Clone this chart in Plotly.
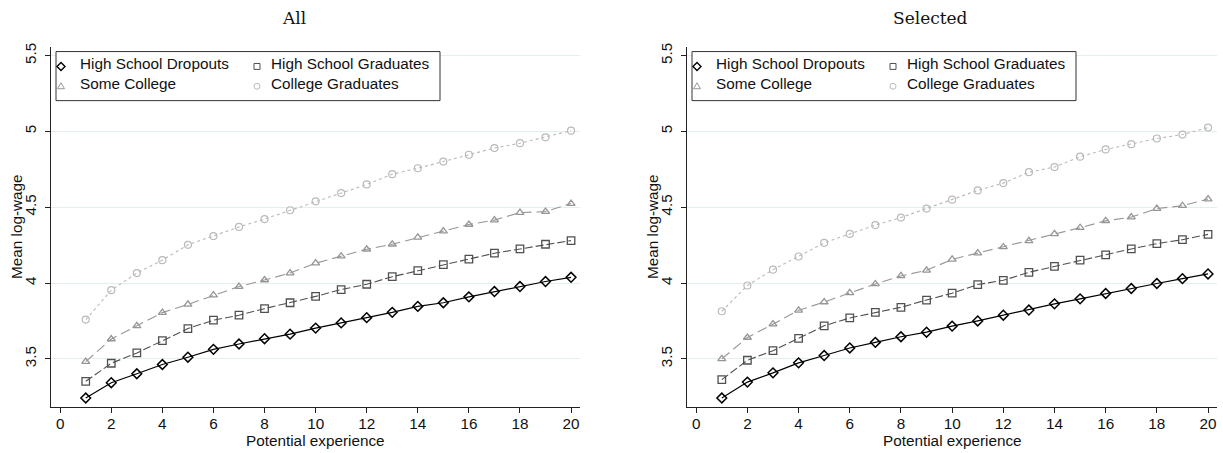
import plotly.graph_objects as go

W, H = 1223, 453

# ---------------- data ----------------
experience = list(range(1, 21))
x_ticks = list(range(0, 21, 2))
y_ticks = [3.5, 4.0, 4.5, 5.0, 5.5]
y_ticktext = ["3.5", "4", "4.5", "5", "5.5"]

series_names = ["High School Dropouts", "High School Graduates", "Some College", "College Graduates"]
panel_titles = ["All", "Selected"]

all_dropouts = [3.242, 3.343, 3.402, 3.463, 3.511, 3.563, 3.598, 3.633, 3.663, 3.703,
                3.737, 3.772, 3.807, 3.846, 3.870, 3.909, 3.944, 3.977, 4.010, 4.038]
all_hsgrad = [3.352, 3.471, 3.539, 3.620, 3.700, 3.755, 3.788, 3.831, 3.870, 3.912,
              3.957, 3.992, 4.042, 4.082, 4.121, 4.158, 4.197, 4.225, 4.256, 4.280]
all_somecol = [3.482, 3.631, 3.718, 3.805, 3.859, 3.920, 3.977, 4.020, 4.066, 4.131,
               4.177, 4.223, 4.256, 4.301, 4.343, 4.386, 4.415, 4.465, 4.471, 4.524]
all_colgrad = [3.759, 3.953, 4.066, 4.151, 4.252, 4.310, 4.370, 4.422, 4.480, 4.539,
               4.593, 4.650, 4.718, 4.757, 4.801, 4.846, 4.890, 4.922, 4.961, 5.005]

sel_dropouts = [3.242, 3.347, 3.408, 3.474, 3.522, 3.572, 3.609, 3.646, 3.676, 3.716,
                3.750, 3.788, 3.822, 3.863, 3.896, 3.931, 3.964, 3.997, 4.029, 4.060]
sel_hsgrad = [3.363, 3.491, 3.554, 3.635, 3.718, 3.770, 3.807, 3.840, 3.888, 3.933,
              3.990, 4.018, 4.071, 4.110, 4.151, 4.186, 4.225, 4.260, 4.286, 4.321]
sel_somecol = [3.500, 3.641, 3.729, 3.820, 3.875, 3.935, 3.994, 4.047, 4.084, 4.156,
               4.197, 4.238, 4.278, 4.324, 4.365, 4.410, 4.435, 4.491, 4.510, 4.554]
sel_colgrad = [3.814, 3.984, 4.088, 4.175, 4.265, 4.324, 4.382, 4.432, 4.491, 4.550,
               4.611, 4.659, 4.731, 4.765, 4.833, 4.881, 4.916, 4.953, 4.979, 5.025]

# ---------------- styles ----------------
styles = [
    dict(color="#000000", dash="solid", symbol="diamond-open", size=7.5, lw=1.2, mlw=1.5),
    dict(color="#505050", dash="8px,3px", symbol="square-open", size=7.5, lw=1.1, mlw=1.3),
    dict(color="#969696", dash="10px,5px", symbol="triangle-up-open", size=7, lw=1.1, mlw=1.3),
    dict(color="#bababa", dash="3px,3px", symbol="circle-open", size=7, lw=1.1, mlw=1.2),
]

SANS = "Liberation Sans, Arial, Helvetica, sans-serif"
SERIF = "DejaVu Serif, serif"
FS = 15.3


def px(x):
    return x / W


def py(y):
    return 1 - y / H


fig = go.Figure()

panels = [
    ([all_dropouts, all_hsgrad, all_somecol, all_colgrad], "x", "y"),
    ([sel_dropouts, sel_hsgrad, sel_somecol, sel_colgrad], "x2", "y2"),
]

for vals, xa, ya in panels:
    for name, v, st in zip(series_names, vals, styles):
        fig.add_trace(go.Scatter(
            x=experience, y=v, name=name, mode="lines+markers",
            xaxis=xa, yaxis=ya, showlegend=False,
            line=dict(color=st["color"], width=st["lw"], dash=st["dash"]),
            marker=dict(symbol=st["symbol"], size=st["size"], color=st["color"],
                        line=dict(color=st["color"], width=st["mlw"])),
        ))

axis_left = [51, 687]
axis_right = [580, 1217]
plot_top, plot_bottom = 43, 407

common_x = dict(range=[-0.36, 20.35], tickmode="array", tickvals=x_ticks,
                ticks="outside", ticklen=5, tickwidth=1, tickcolor="#222",
                showline=True, linecolor="#222", linewidth=1, showgrid=False,
                zeroline=False, ticklabelstandoff=-3,
                tickfont=dict(family=SANS, size=FS, color="#111"))
common_y = dict(range=[3.18, 5.559], tickmode="array", tickvals=y_ticks, ticktext=y_ticktext,
                tickangle=-90, ticks="outside", ticklen=5, tickwidth=1, tickcolor="#222",
                showline=True, linecolor="#222", linewidth=1, showgrid=True,
                gridcolor="#e4eef1", gridwidth=1, zeroline=False, ticklabelstandoff=3,
                tickfont=dict(family=SANS, size=FS, color="#111"))

fig.update_layout(
    width=W, height=H,
    margin=dict(l=0, r=0, t=0, b=0),
    paper_bgcolor="white", plot_bgcolor="white",
    xaxis=dict(domain=[px(axis_left[0]), px(axis_right[0])], anchor="y", **common_x),
    yaxis=dict(domain=[py(plot_bottom), py(plot_top)], anchor="x", **common_y),
    xaxis2=dict(domain=[px(axis_left[1]), px(axis_right[1])], anchor="y2", **common_x),
    yaxis2=dict(domain=[py(plot_bottom), py(plot_top)], anchor="x2", **common_y),
)

annotations = []
shapes = []
title_x = [294, 930]

for i in range(2):
    L = axis_left[i]
    Rr = axis_right[i]
    # panel title
    annotations.append(dict(text=panel_titles[i], x=px(title_x[i]), y=py(14), xref="paper", yref="paper",
                            xanchor="center", yanchor="middle", showarrow=False,
                            font=dict(family=SERIF, size=17, color="#111")))
    # axis titles
    annotations.append(dict(text="Potential experience", x=px((L + Rr) / 2), y=py(440),
                            xref="paper", yref="paper", xanchor="center", yanchor="middle",
                            showarrow=False, font=dict(family=SANS, size=FS, color="#111")))
    annotations.append(dict(text="Mean log-wage", x=px(L - 35), y=py((plot_top + plot_bottom) / 2),
                            xref="paper", yref="paper", xanchor="center", yanchor="middle",
                            textangle=-90, showarrow=False,
                            font=dict(family=SANS, size=FS, color="#111")))
    # legend box
    off = L - 51
    shapes.append(dict(type="rect", xref="paper", yref="paper",
                       x0=px(56 + off), x1=px(440 + off), y0=py(97.5), y1=py(48),
                       line=dict(color="#333", width=1), fillcolor="white", layer="above"))
    entries = [(61, 63), (257, 63), (61, 83), (257, 83)]
    for (mx, my), name, st in zip(entries, series_names, styles):
        cx = mx + off
        c = st["color"]
        if "diamond" in st["symbol"]:
            path = (f"M {px(cx-4)},{py(my)} L {px(cx)},{py(my-4)} L {px(cx+4)},{py(my)} "
                    f"L {px(cx)},{py(my+4)} Z")
            shapes.append(dict(type="path", path=path, xref="paper", yref="paper",
                               line=dict(color=c, width=1.4), layer="above"))
        elif "square" in st["symbol"]:
            shapes.append(dict(type="rect", xref="paper", yref="paper",
                               x0=px(cx - 3), x1=px(cx + 3), y0=py(my + 3), y1=py(my - 3),
                               line=dict(color=c, width=1), layer="above"))
        elif "triangle" in st["symbol"]:
            path = (f"M {px(cx-3.5)},{py(my+2.5)} L {px(cx+3.5)},{py(my+2.5)} "
                    f"L {px(cx)},{py(my-3.5)} Z")
            shapes.append(dict(type="path", path=path, xref="paper", yref="paper",
                               line=dict(color=c, width=1), layer="above"))
        else:
            shapes.append(dict(type="circle", xref="paper", yref="paper",
                               x0=px(cx - 3), x1=px(cx + 3), y0=py(my + 3), y1=py(my - 3),
                               line=dict(color=c, width=1), layer="above"))
        annotations.append(dict(text=name, x=px(cx + 17 if mx == 61 else cx + 12), y=py(my - 2.5),
                                xref="paper", yref="paper", xanchor="left", yanchor="middle",
                                showarrow=False, font=dict(family=SANS, size=FS, color="#111")))

fig.update_layout(annotations=annotations, shapes=shapes)

fig.write_html("out.html")
